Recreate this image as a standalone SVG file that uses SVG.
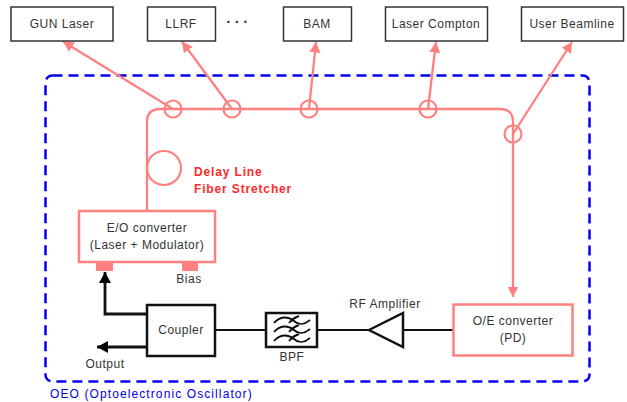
<svg xmlns="http://www.w3.org/2000/svg" width="627" height="402" viewBox="0 0 627 402">
<defs>
<marker id="pa" markerUnits="userSpaceOnUse" markerWidth="12" markerHeight="12" refX="10.500" refY="6" orient="auto"><path d="M0,0.5L10.500,6L0,11.500Z" fill="#ff8080"/></marker>
<marker id="ka" markerUnits="userSpaceOnUse" markerWidth="12" markerHeight="14" refX="11" refY="7" orient="auto"><path d="M0,1L11,7L0,13Z" fill="#000"/></marker>
</defs>
<style>
text{font-family:"Liberation Sans","DejaVu Sans",sans-serif;font-size:12px;fill:#333;text-anchor:middle;letter-spacing:.5px}
.bk{fill:#fff;stroke:#333;stroke-width:1.500}
.pk{fill:#fff;stroke:#ff8080;stroke-width:2.500}
.fib{fill:none;stroke:#ff8080;stroke-width:2.300}
.cir{fill:none;stroke:#ff8080;stroke-width:2.200}
.blk{fill:#fff;stroke:#111;stroke-width:2.500}
.wire{fill:none;stroke:#111;stroke-width:2.200}
.pad{fill:#ff8080}
.red{fill:#ff2a2a;text-anchor:start;letter-spacing:.85px;font-weight:bold}
</style>
<rect x="45.500" y="75.500" width="544" height="306" rx="7" fill="none" stroke="#0000ee" stroke-width="2.500" stroke-dasharray="10 6"/>
<g id="connectors">
<path class="fib" d="M147,211V122Q147,109 160,109H500Q513,109 513,122V297" marker-end="url(#pa)"/>
<path class="fib" d="M173,109L63,41.500" marker-end="url(#pa)"/>
<path class="fib" d="M232,109L182,41.500" marker-end="url(#pa)"/>
<path class="fib" d="M309,109L316,42" marker-end="url(#pa)"/>
<path class="fib" d="M428,109L436,42" marker-end="url(#pa)"/>
<path class="fib" d="M513,134L572,42" marker-end="url(#pa)"/>
<path class="wire" style="stroke-width:2.800" d="M147,314H105V272" marker-end="url(#ka)"/>
<path class="wire" style="stroke-width:2.800" d="M147,347H97" marker-end="url(#ka)"/>
<path class="wire" d="M215,330H266M317,330H369M403,330H453"/>
</g>
<g id="gun-laser"><rect class="bk" x="11" y="7" width="102" height="34"/><text x="62" y="28">GUN Laser</text></g>
<g id="llrf"><rect class="bk" x="147.500" y="7" width="68" height="34"/><text x="181" y="28">LLRF</text></g>
<text id="dots" x="239" y="27" style="font-size:15px;font-weight:bold;letter-spacing:3.500px">···</text>
<g id="bam"><rect class="bk" x="283.500" y="7" width="68" height="34"/><text x="317" y="28">BAM</text></g>
<g id="laser-compton"><rect class="bk" x="385.500" y="7" width="102" height="34"/><text x="436" y="28">Laser Compton</text></g>
<g id="user-beamline"><rect class="bk" x="521.500" y="7" width="102" height="34"/><text x="572" y="28">User Beamline</text></g>
<g id="taps">
<circle class="cir" cx="173" cy="109" r="8.500"/><circle class="cir" cx="232" cy="109" r="8.500"/><circle class="cir" cx="309" cy="109" r="8.500"/><circle class="cir" cx="428" cy="109" r="8.500"/><circle class="cir" cx="513" cy="134" r="8.500"/>
</g>
<g id="delay-line"><circle class="cir" cx="164" cy="168" r="17"/>
<text class="red" x="194" y="176">Delay Line</text>
<text class="red" x="194" y="193">Fiber Stretcher</text></g>
<g id="eo-converter"><rect class="pk" x="79" y="211" width="136" height="51"/><rect class="pad" x="96" y="263" width="17" height="8"/><rect class="pad" x="182" y="263" width="16" height="8"/>
<text x="147" y="232">E/O converter</text><text x="147" y="249">(Laser + Modulator)</text><text x="189" y="283">Bias</text></g>
<g id="coupler"><rect class="blk" x="147" y="305" width="68" height="51"/><text x="181" y="334">Coupler</text></g>
<text id="output" x="105" y="368">Output</text>
<g id="bpf"><rect class="blk" x="266" y="313" width="51" height="34"/>
<path d="M274,323C280,316 288,316 294,321C298,325 304,325 310,320M274,332C280,325 288,325 294,330C298,334 304,334 310,329M274,341C280,334 288,334 294,339C298,343 304,343 310,338M299,316Q293,318 289,323M299,325Q293,327 289,332M299,334Q293,336 289,341" fill="none" stroke="#111" stroke-width="1.900"/>
<text x="292" y="361">BPF</text></g>
<g id="rf-amplifier"><path d="M369,330L403,313V347Z" fill="#fff" stroke="#111" stroke-width="2.500"/><text x="385" y="308">RF Amplifier</text></g>
<g id="oe-converter"><rect class="pk" x="453.500" y="304.500" width="119" height="51"/><text x="513" y="325">O/E converter</text><text x="513" y="342">(PD)</text></g>
<text id="oeo-label" x="50" y="398" style="fill:#0000ee;text-anchor:start;letter-spacing:1.100px">OEO (Optoelectronic Oscillator)</text>
</svg>
